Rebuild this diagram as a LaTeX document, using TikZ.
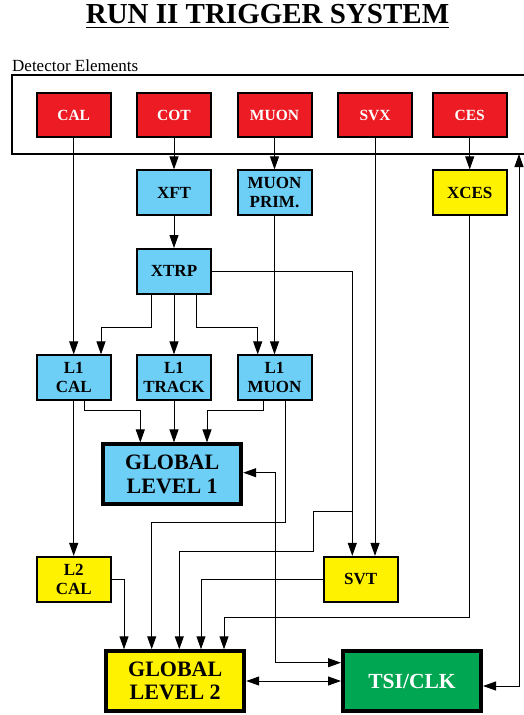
\documentclass[tikz,border=0pt]{standalone}
\usepackage{fontspec}
\setmainfont{Liberation Serif}
\usetikzlibrary{arrows.meta}
\definecolor{detred}{RGB}{237,28,36}
\definecolor{lvlblue}{RGB}{109,207,246}
\definecolor{lvlyellow}{RGB}{255,242,0}
\definecolor{clkgreen}{RGB}{0,166,81}
\tikzset{
  box/.style={draw, line width=2pt, inner sep=0pt, minimum width=74pt, minimum height=44.6pt,
    align=center, font=\fontsize{17}{19.3}\selectfont\bfseries},
  detbox/.style={box, fill=detred, text=white, font=\fontsize{15.5}{18}\selectfont\bfseries},
  l1box/.style={box, fill=lvlblue},
  l2box/.style={box, fill=lvlyellow},
  bigbox/.style={draw, line width=4pt, inner sep=0pt, minimum width=138pt, minimum height=59.5pt,
    align=center, font=\fontsize{22}{23.5}\selectfont\bfseries},
  link/.style={line width=1pt, ->},
}
\begin{document}
\begin{tikzpicture}[x=1pt, y=-1pt, line join=miter, >={Triangle[length=13pt,width=9pt]}]
  \useasboundingbox (0,0) rectangle (524,715);
  \clip (0,0) rectangle (524,715);
  % Titel
  \node (title) [anchor=base, inner sep=0pt, font=\fontsize{29}{30}\selectfont\bfseries] at (267.5,23) {RUN II TRIGGER SYSTEM};
  \draw[line width=1.8pt] ([yshift=-4.5pt]title.base west) -- ([yshift=-4.5pt]title.base east);
  % Detector
  \node[anchor=base west, inner sep=0pt, font=\fontsize{17}{19}\selectfont] at (12,71) {Detector Elements};
  \draw[line width=2pt] (11.7,75) rectangle (540,154);
  \coordinate (detb) at (519,154);
  \node[detbox] (cal)  at (73.7,115) {CAL};
  \node[detbox] (cot)  at (174,115)  {COT};
  \node[detbox] (muon) at (274.5,115) {MUON};
  \node[detbox] (svx)  at (375,115)  {SVX};
  \node[detbox] (ces)  at (469.7,115) {CES};
  % Level 1
  \node[l1box] (xft)   at (174,192.7)   {XFT};
  \node[l1box] (mprim) at (274.5,192.7) {MUON\\PRIM.};
  \node[l2box] (xces)  at (469.7,192.7) {XCES};
  \node[l1box] (xtrp)  at (174,271.3)   {XTRP};
  \node[l1box] (l1cal)   at (73.7,377.7)  {L1\\CAL};
  \node[l1box] (l1track) at (174,377.7)   {L1\\TRACK};
  \node[l1box] (l1muon)  at (274.5,377.7) {L1\\MUON};
  \node[bigbox, fill=lvlblue] (gl1) at (172.2,474.2) {GLOBAL\\LEVEL 1};
  % Level 2
  \node[l2box] (l2cal) at (73.7,579.2)  {L2\\CAL};
  \node[l2box] (svt)   at (360.7,579.2) {SVT};
  \node[bigbox, fill=lvlyellow] (gl2) at (175.2,681) {GLOBAL\\LEVEL 2};
  \node[bigbox, fill=clkgreen, text=white, font=\fontsize{21.5}{23}\selectfont\bfseries] (tsi) at (412,681) {TSI/CLK};
  \coordinate (jsvt) at (352.3,511.7);
  % Verbindungen
  \draw[link] (cal) -- (l1cal);
  \draw[link] (cot) -- (xft);
  \draw[link] (xft) -- (xtrp);
  \draw[link] (muon) -- (mprim);
  \draw[link] (ces) -- (xces);
  \draw[link] (mprim) -- (l1muon);
  \draw[link] (svx.south) -- (svx.south |- svt.north);
  \draw[link] (xtrp.east) -| ([xshift=-8.4pt]svt.north);
  \draw[link] ([xshift=-22.3pt]xtrp.south) -- ++(0,32.4) -| ([xshift=27.3pt]l1cal.north);
  \draw[link] (xtrp) -- (l1track);
  \draw[link] ([xshift=22pt]xtrp.south) -- ++(0,32.4) -| ([xshift=-16.8pt]l1muon.north);
  \draw[link] ([xshift=10.6pt]l1cal.south) -- ++(0,9.7) -| ([xshift=-31.9pt]gl1.north);
  \draw[link] (l1track.south) -- (l1track.south |- gl1.north);
  \draw[link] ([xshift=-11.2pt]l1muon.south) -- ++(0,9.7) -| ([xshift=34.8pt]gl1.north);
  \draw[link] ([xshift=10.8pt]l1muon.south) -- ++(0,121.5) -| ([xshift=-23.5pt]gl2.north);
  \draw[link] (l1cal) -- (l2cal);
  \draw[link] (l2cal.east) -| ([xshift=-51.2pt]gl2.north);
  \draw[link] (jsvt) -- ++(-39,0) -- ++(0,39.3) -| ([xshift=4.1pt]gl2.north);
  \draw[link] (svt.west) -| ([xshift=25.8pt]gl2.north);
  \draw[link] (xces.south) -- ++(0,401.7) -| ([xshift=48.8pt]gl2.north);
  \draw[link, <->] ([yshift=1.5pt]gl1.east) -- ++(32.7,0) |- ([yshift=18.3pt]tsi.west);
  \draw[link, <->] (gl2.east) -- (tsi.west);
  \draw[link, <->] ([yshift=-5pt]tsi.east) -| (detb);
\end{tikzpicture}
\end{document}
